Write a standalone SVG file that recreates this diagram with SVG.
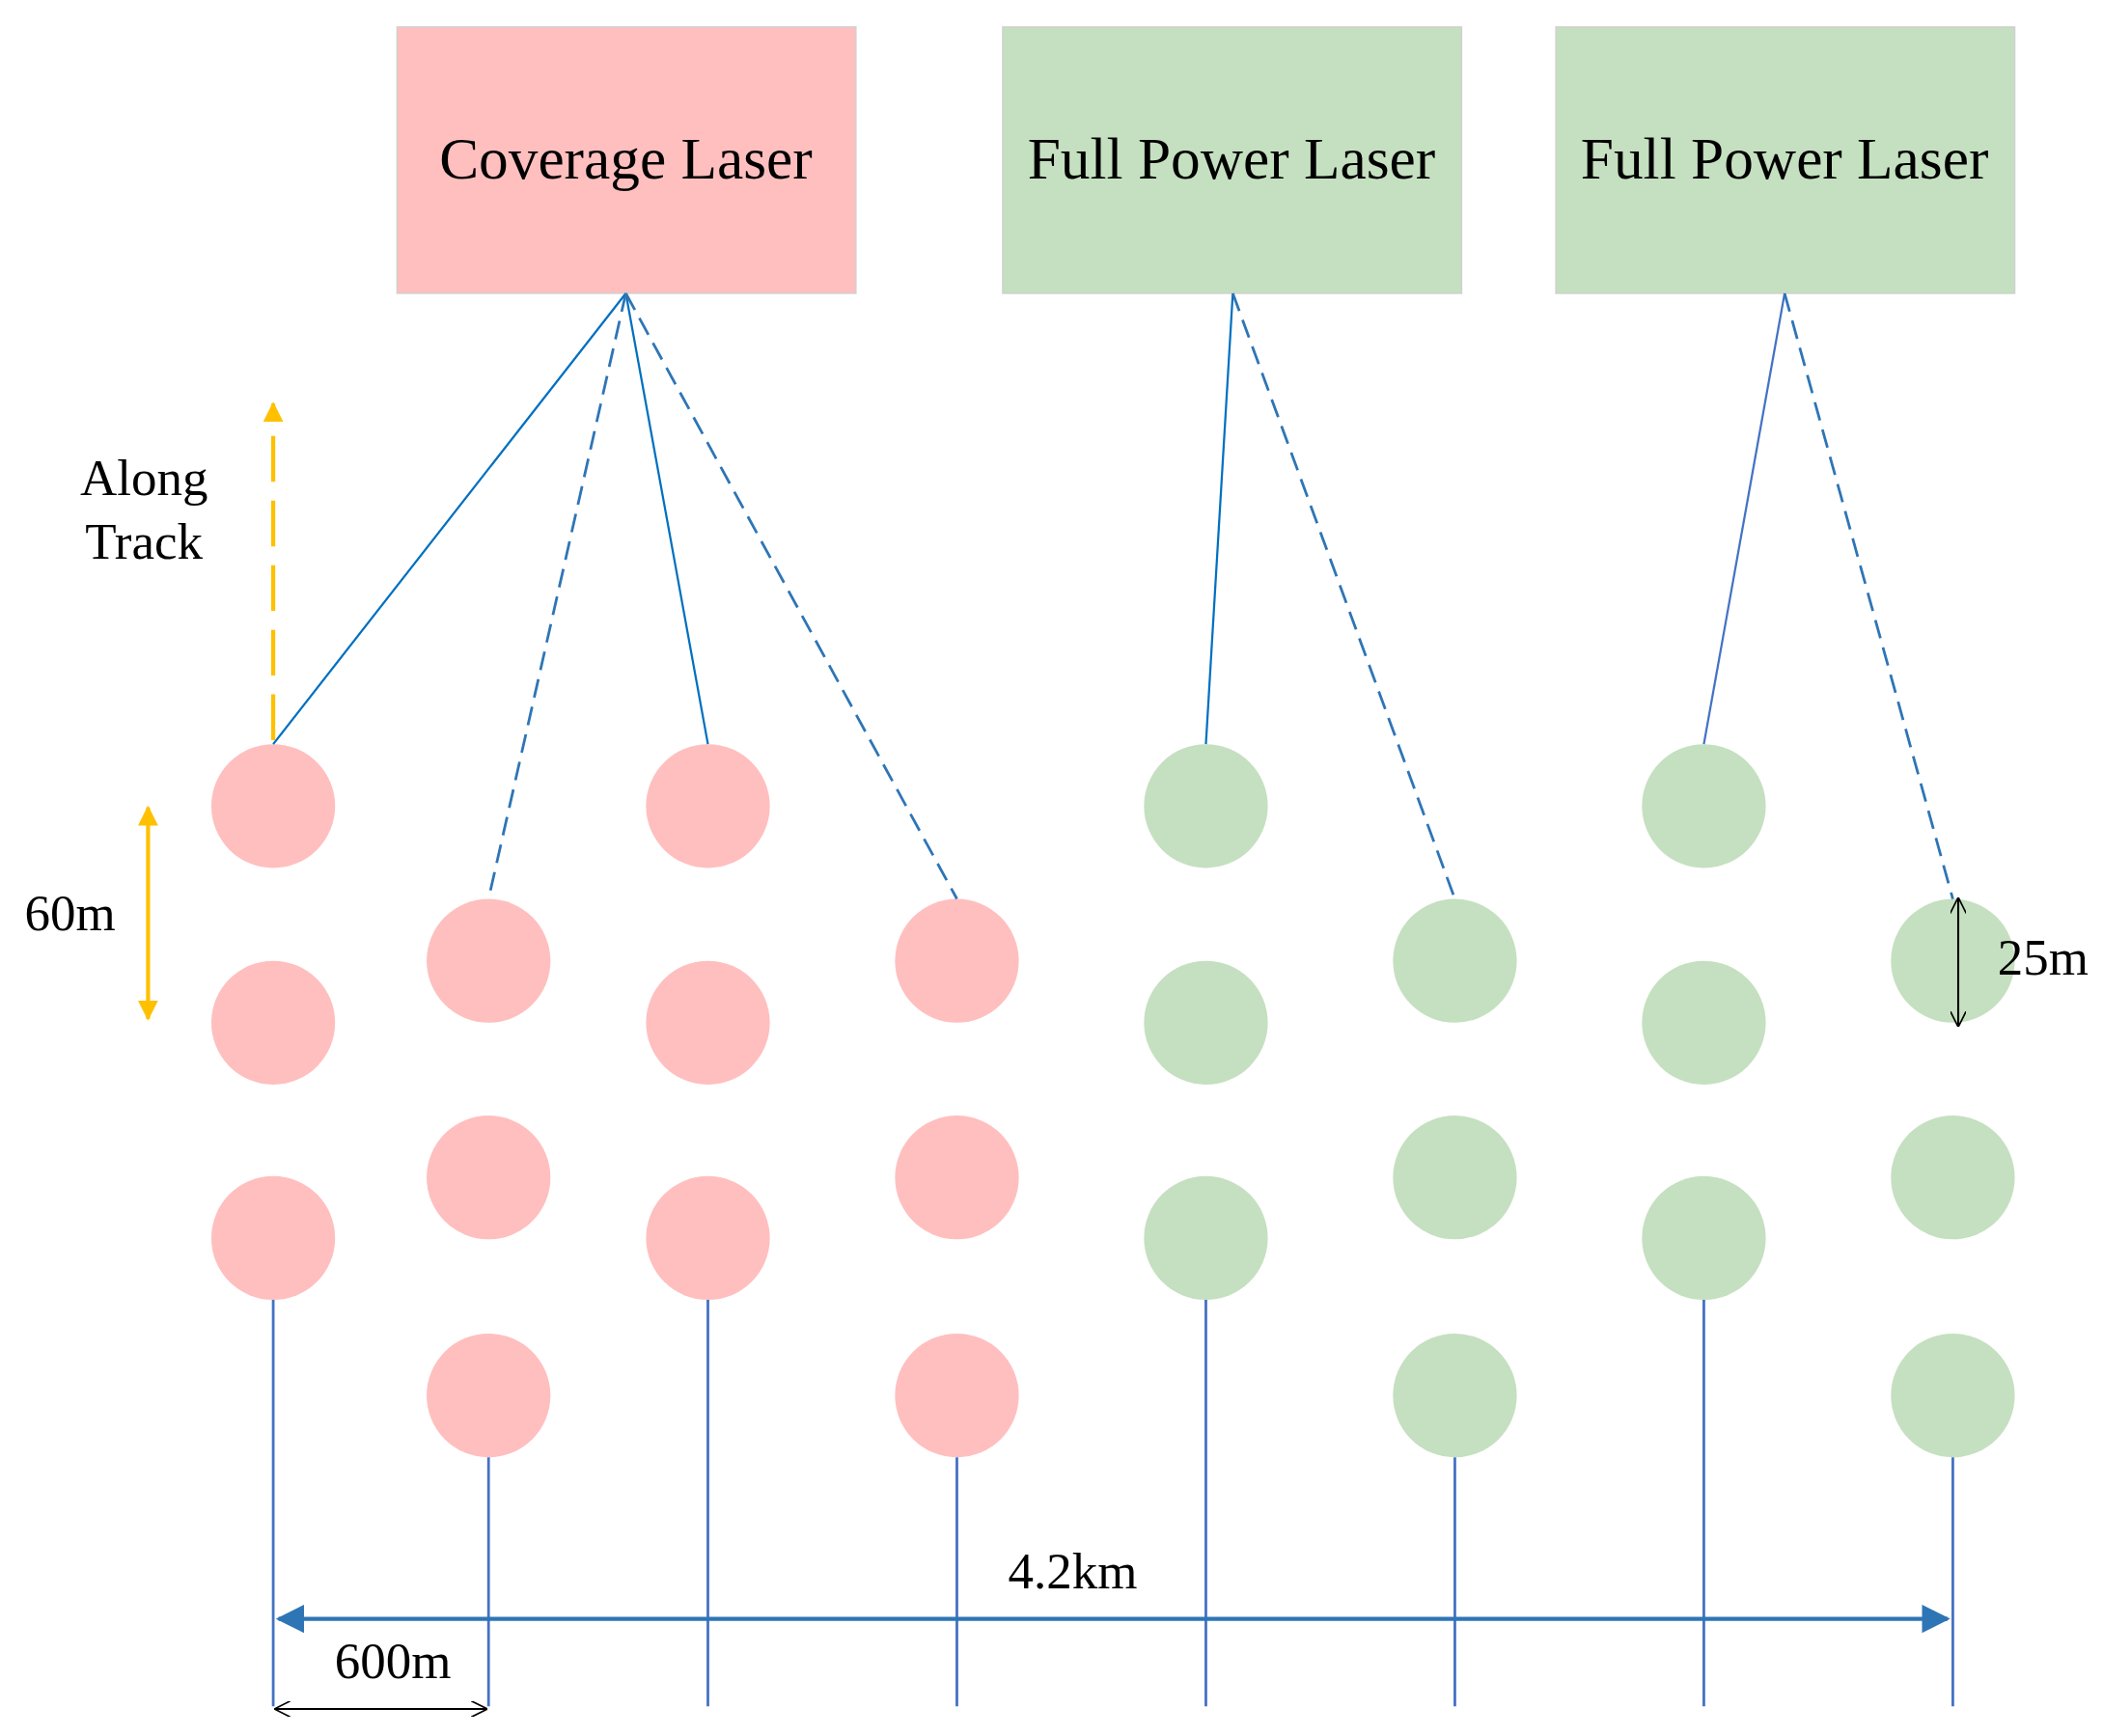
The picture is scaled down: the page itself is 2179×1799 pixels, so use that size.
<svg xmlns="http://www.w3.org/2000/svg" width="2179" height="1799" viewBox="0 0 2179 1799">
<style>
text{font-family:"Liberation Serif","Times New Roman",serif;fill:#000}
.box{stroke:#d0d0d0;stroke-width:1}
.p{fill:#ffbfbf}.g{fill:#c5e0c0}
.bl{stroke:#0070c0;stroke-width:1.6;fill:none}
.dl{stroke:#2e75b6;stroke-width:2;stroke-dasharray:14 7;fill:none}
.v{stroke:#4472c4;stroke-width:2;fill:none}
</style>
<defs>
<marker id="ab" viewBox="0 0 10 10" refX="9" refY="5" markerWidth="7" markerHeight="7" orient="auto-start-reverse"><path d="M0,0L10,5L0,10z" fill="#2e75b6"/></marker>
<marker id="ao" viewBox="0 0 10 10" refX="9" refY="5" markerWidth="5" markerHeight="5" orient="auto-start-reverse"><path d="M0,0L10,5L0,10z" fill="#ffc000"/></marker>
<marker id="ak" viewBox="0 0 10 10" refX="9" refY="5" markerWidth="12" markerHeight="12" markerUnits="userSpaceOnUse" orient="auto-start-reverse"><path d="M0,0L10,5L0,10" fill="none" stroke="#000" stroke-width="1"/></marker>
</defs>
<rect width="2179" height="1799" fill="#fff"/>
<g transform="scale(1.3945)">
<g id="box-coverage"><rect class="box p" x="295" y="20" width="341" height="198"/><text x="465" y="133" font-size="44" text-anchor="middle">Coverage Laser</text></g>
<g id="box-fp1"><rect class="box g" x="745" y="20" width="341" height="198"/><text x="915" y="133" font-size="44" text-anchor="middle">Full Power Laser</text></g>
<g id="box-fp2"><rect class="box g" x="1156" y="20" width="341" height="198"/><text x="1326" y="133" font-size="44" text-anchor="middle">Full Power Laser</text></g>
<g id="spots">
<circle class="p" cx="203" cy="599" r="46"/><circle class="p" cx="203" cy="760" r="46"/><circle class="p" cx="203" cy="920" r="46"/>
<circle class="p" cx="363" cy="714" r="46"/><circle class="p" cx="363" cy="875" r="46"/><circle class="p" cx="363" cy="1037" r="46"/>
<circle class="p" cx="526" cy="599" r="46"/><circle class="p" cx="526" cy="760" r="46"/><circle class="p" cx="526" cy="920" r="46"/>
<circle class="p" cx="711" cy="714" r="46"/><circle class="p" cx="711" cy="875" r="46"/><circle class="p" cx="711" cy="1037" r="46"/>
<circle class="g" cx="896" cy="599" r="46"/><circle class="g" cx="896" cy="760" r="46"/><circle class="g" cx="896" cy="920" r="46"/>
<circle class="g" cx="1081" cy="714" r="46"/><circle class="g" cx="1081" cy="875" r="46"/><circle class="g" cx="1081" cy="1037" r="46"/>
<circle class="g" cx="1266" cy="599" r="46"/><circle class="g" cx="1266" cy="760" r="46"/><circle class="g" cx="1266" cy="920" r="46"/>
<circle class="g" cx="1451" cy="714" r="46"/><circle class="g" cx="1451" cy="875" r="46"/><circle class="g" cx="1451" cy="1037" r="46"/>
</g>
<g id="connectors">
<path class="bl" d="M465,218L203,553M465,218L526,553M916,218L896,553"/>
<path class="bl" d="M1326,218L1266,553" style="stroke:#4472c4"/>
<path class="dl" d="M465,218L363,668M465,218L711,668M916,218L1081,668M1326,218L1451,668"/>
<path class="v" d="M203,966V1268M526,966V1268M896,966V1268M1266,966V1268M363,1083V1268M711,1083V1268M1081,1083V1268M1451,1083V1268"/>
<line x1="207" y1="1203" x2="1447" y2="1203" stroke="#2e75b6" stroke-width="3" marker-start="url(#ab)" marker-end="url(#ab)"/>
<line x1="205" y1="1270" x2="361" y2="1270" stroke="#000" stroke-width="1.5" marker-start="url(#ak)" marker-end="url(#ak)"/>
<line x1="203" y1="550" x2="203" y2="300" stroke="#ffc000" stroke-width="3" stroke-dasharray="34 14" marker-end="url(#ao)"/>
<line x1="110" y1="600" x2="110" y2="757" stroke="#ffc000" stroke-width="3" marker-start="url(#ao)" marker-end="url(#ao)"/>
<line x1="1455" y1="668" x2="1455" y2="762" stroke="#000" stroke-width="1.5" marker-start="url(#ak)" marker-end="url(#ak)"/>
</g>
<g id="labels">
<text x="107" y="368" font-size="38" text-anchor="middle">Along</text>
<text x="107" y="415" font-size="38" text-anchor="middle">Track</text>
<text x="52" y="691" font-size="38" text-anchor="middle">60m</text>
<text x="1518" y="724" font-size="38" text-anchor="middle">25m</text>
<text x="797" y="1180" font-size="38" text-anchor="middle">4.2km</text>
<text x="292" y="1247" font-size="38" text-anchor="middle">600m</text>
</g>
</g>
</svg>
